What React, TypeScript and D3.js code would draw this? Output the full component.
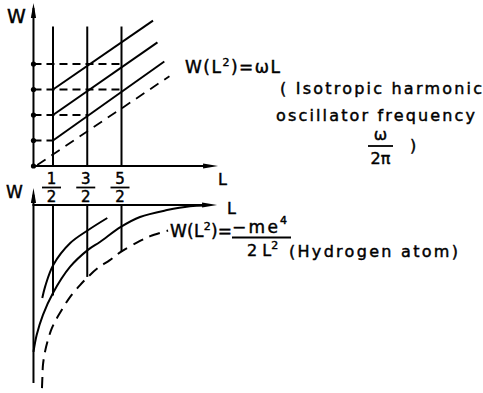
import React from 'react'
import * as d3 from 'd3'

// L positions of the three quantised values (ticks 1/2, 3/2, 5/2)
const tickL = [0.5, 1.5, 2.5]
const tickNum = ['1', '3', '5']
const tickDen = ['2', '2', '2']

// top panel: oscillator levels on the W axis and how far each dashed guide reaches
const levelW = [0, 1, 2, 3, 4]
const levelReachL = [0, 0.5, 1.5, 2.5, 2.5]
// solid level lines, start (L=1/2) and end points
const lineStartW = [1, 2, 3]
const lineEndL = [3.75, 3.55, 3.42]
const lineEndW = [4.1, 4.85, 5.7]
// classical dashed line W = wL
const classicL = [0.04, 3.9]
const classicW = [0.04, 3.52]
const topVertTopW = 5.47

// bottom panel (hydrogen)
const curveAL = [0.187, 0.274, 0.508, 1.004, 1.53, 2.085]
const curveAW = [-3.65, -3.18, -2.35, -1.49, -0.98, -0.51]
const curveBL = [-0.07, 0.023, 0.207, 0.5, 0.996, 1.52, 1.87, 2.48, 3.04, 3.83, 4.5, 4.94]
const curveBW = [-5.76, -5.1, -4.31, -3.45, -2.43, -1.76, -1.45, -0.86, -0.47, -0.2, -0.05, -0.02]
const dashL = [0.178, 0.193, 0.207, 0.266, 0.353, 0.47, 0.616, 0.79, 0.996, 1.29, 1.52, 1.81, 2.16, 2.48, 3.04, 3.34, 3.86]
const dashW = [-7.18, -6.67, -6.27, -5.76, -5.29, -4.82, -4.43, -4.04, -3.61, -3.14, -2.82, -2.47, -2.16, -1.84, -1.41, -1.22, -1.0]
const botVertEndW = [-3.55, -2.82, -1.84]

const width = 483
const height = 393
const font = '"DejaVu Sans", sans-serif'

const App = () => {
  const x = d3.scaleLinear().domain([0.5, 2.5]).range([53, 121.5])
  const yTop = d3.scaleLinear().domain([0, 1]).range([166, 140.5])
  const yBot = d3.scaleLinear().domain([0, -1]).range([205, 230.5])

  const axisL = -0.07
  const line = d3.line<[number, number]>().curve(d3.curveCatmullRom.alpha(0.5))
  const botPath = (ls: number[], ws: number[]) =>
    line(ls.map((l, i) => [x(l), yBot(ws[i])]))

  const arrowUp = (cx: number, tip: number) =>
    `M${cx},${tip} L${cx - 2.6},${tip + 15} L${cx + 2.6},${tip + 15} Z`
  const arrowRight = (tip: number, cy: number) =>
    `M${tip},${cy} L${tip - 15},${cy - 2.6} L${tip - 15},${cy + 2.6} Z`

  const ax = x(axisL)
  const topEnd = x(5.32)
  const botEnd = x(5.29)

  return (
    <svg width={width} height={height}
      style={{ position: 'absolute', left: 0, top: 0, background: '#fff' }}
      fontFamily={font} fill="#000">
      <g stroke="#000" strokeWidth={2} fill="none" strokeLinecap="butt">
        {/* top panel axes */}
        <line x1={ax} y1={yTop(0)} x2={ax} y2={yTop(6.2)} />
        <line x1={ax - 1} y1={yTop(0)} x2={topEnd - 6} y2={yTop(0)} />
        {tickL.map((l, i) => (
          <line key={'tv' + i} x1={x(l)} y1={yTop(0)} x2={x(l)} y2={yTop(topVertTopW)} />
        ))}
        {levelW.map((w, i) => i > 0 && (
          <line key={'hl' + i} x1={ax} y1={yTop(w)} x2={x(levelReachL[i])} y2={yTop(w)}
            strokeDasharray="8,5" />
        ))}
        {lineStartW.map((w, i) => (
          <line key={'ll' + i} x1={x(0.5)} y1={yTop(w)} x2={x(lineEndL[i])} y2={yTop(lineEndW[i])} />
        ))}
        <line x1={x(classicL[0])} y1={yTop(classicW[0])} x2={x(classicL[1])} y2={yTop(classicW[1])}
          strokeDasharray="10,7" strokeWidth={1.8} />

        {/* bottom panel axes */}
        <line x1={ax} y1={yBot(0.4)} x2={ax} y2={yBot(-6.98)} />
        <line x1={ax - 1} y1={yBot(0)} x2={botEnd - 6} y2={yBot(0)} />
        {tickL.map((l, i) => (
          <line key={'bv' + i} x1={x(l)} y1={yBot(0)} x2={x(l)} y2={yBot(botVertEndW[i])} />
        ))}
        <path d={botPath(curveAL, curveAW) || ''} />
        <path d={botPath(curveBL, curveBW) || ''} />
        <path d={botPath(dashL, dashW) || ''} strokeDasharray="11,7" />
      </g>

      {/* arrow heads */}
      <path d={arrowUp(ax, 3)} />
      <path d={arrowRight(topEnd, yTop(0))} />
      <path d={arrowUp(ax, 188)} />
      <path d={arrowRight(botEnd, yBot(0))} />

      {levelW.map((w, i) => (
        <circle key={'dot' + i} cx={ax} cy={yTop(w)} r={2.6} />
      ))}

      <g stroke="#000" strokeWidth={0.45}>
        {/* axis names */}
        <text x={7} y={23} fontSize={19}>W</text>
        <text x={6} y={198} fontSize={17}>W</text>
        <text x={218} y={185} fontSize={16}>L</text>
        <text x={227} y={214} fontSize={16}>L</text>

        {/* tick fractions */}
        {tickL.map((l, i) => (
          <g key={'fr' + i} fontSize={15} textAnchor="middle">
            <text x={x(l) - 1.5} y={184}>{tickNum[i]}</text>
            <line x1={x(l) - 11} x2={x(l) + 8} y1={187.5} y2={187.5} stroke="#000" strokeWidth={1.8} />
            <text x={x(l) - 1.5} y={202}>{tickDen[i]}</text>
          </g>
        ))}

        {/* oscillator annotation */}
        <text x={185} y={73} fontSize={17} textLength={95} lengthAdjust="spacing">
          W(L<tspan dy={-7} fontSize={11}>2</tspan><tspan dy={7}>)=ωL</tspan>
        </text>
        <text x={280} y={94} fontSize={16} textLength={202} lengthAdjust="spacing">( Isotropic harmonic</text>
        <text x={276} y={121} fontSize={16} textLength={199} lengthAdjust="spacing">oscillator frequency</text>
        <text x={380.5} y={140} fontSize={16} textAnchor="middle">ω</text>
        <line x1={368} x2={393} y1={146} y2={146} stroke="#000" strokeWidth={1.8} />
        <text x={380.5} y={164} fontSize={16} textAnchor="middle">2π</text>
        <text x={410} y={151} fontSize={16}>)</text>

        {/* hydrogen annotation */}
        <text x={170} y={237} fontSize={17} textLength={62} lengthAdjust="spacing">
          W(L<tspan dy={-7} fontSize={11}>2</tspan><tspan dy={7}>)=</tspan>
        </text>
        <text x={232} y={233} fontSize={17} textLength={46} lengthAdjust="spacing">−me</text>
        <text x={280} y={224} fontSize={11}>4</text>
        <line x1={232} x2={291} y1={237.5} y2={237.5} stroke="#000" strokeWidth={1.8} />
        <text x={247} y={256} fontSize={16}>
          2 L<tspan dy={-7} fontSize={11}>2</tspan>
        </text>
        <text x={289} y={257} fontSize={16} textLength={169} lengthAdjust="spacing">(Hydrogen atom)</text>
      </g>
    </svg>
  )
}

export default App
